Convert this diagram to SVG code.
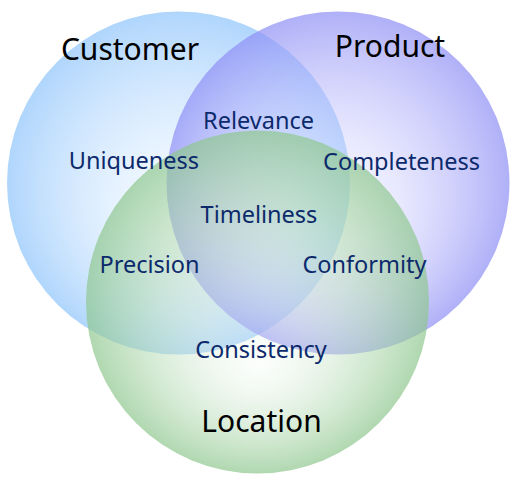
<svg xmlns="http://www.w3.org/2000/svg" width="522" height="481" viewBox="0 0 522 481">
<defs>
<radialGradient id="gC" cx="0.5" cy="0.5" r="0.5" fx="0.52" fy="0.62">
<stop offset="0" stop-color="#f4f9ff" stop-opacity="0.15"/>
<stop offset="0.35" stop-color="#c9e3ff" stop-opacity="0.4"/>
<stop offset="1" stop-color="#8ec4fb" stop-opacity="0.7"/>
</radialGradient>
<radialGradient id="gP" cx="0.5" cy="0.5" r="0.5" fx="0.45" fy="0.62">
<stop offset="0" stop-color="#f6f6ff" stop-opacity="0.15"/>
<stop offset="0.35" stop-color="#d0d0ff" stop-opacity="0.4"/>
<stop offset="1" stop-color="#8e8ef5" stop-opacity="0.7"/>
</radialGradient>
<radialGradient id="gL" cx="0.5" cy="0.5" r="0.5" fx="0.5" fy="0.68">
<stop offset="0" stop-color="#eef8ee" stop-opacity="0.2"/>
<stop offset="0.35" stop-color="#d0e8d0" stop-opacity="0.4"/>
<stop offset="1" stop-color="#8ec78e" stop-opacity="0.7"/>
</radialGradient>
</defs>
<style>
.big{font-family:"Noto Sans","Open Sans",sans-serif;font-size:30px;fill:#000;text-anchor:middle}
.lbl{font-family:"Noto Sans","Open Sans",sans-serif;font-size:23.5px;fill:#0c2a6b;text-anchor:middle}
</style>
<rect width="522" height="481" fill="#ffffff"/>
<g id="customer">
<circle cx="178.5" cy="183" r="171.5" fill="url(#gC)"/>
</g>
<g id="product">
<circle cx="338" cy="183" r="171.5" fill="url(#gP)"/>
</g>
<g id="location">
<circle cx="257.5" cy="302" r="171.5" fill="url(#gL)"/>
</g>
<g id="connectors"></g>
<g id="labels">
<text class="big" x="130" y="60">Customer</text>
<text class="big" x="390" y="57">Product</text>
<text class="big" x="261.5" y="432">Location</text>
<text class="lbl" x="258.5" y="129">Relevance</text>
<text class="lbl" x="134" y="169">Uniqueness</text>
<text class="lbl" x="401.5" y="170">Completeness</text>
<text class="lbl" x="259" y="223">Timeliness</text>
<text class="lbl" x="149.5" y="273">Precision</text>
<text class="lbl" x="364.5" y="273">Conformity</text>
<text class="lbl" x="261" y="358">Consistency</text>
</g>
</svg>
